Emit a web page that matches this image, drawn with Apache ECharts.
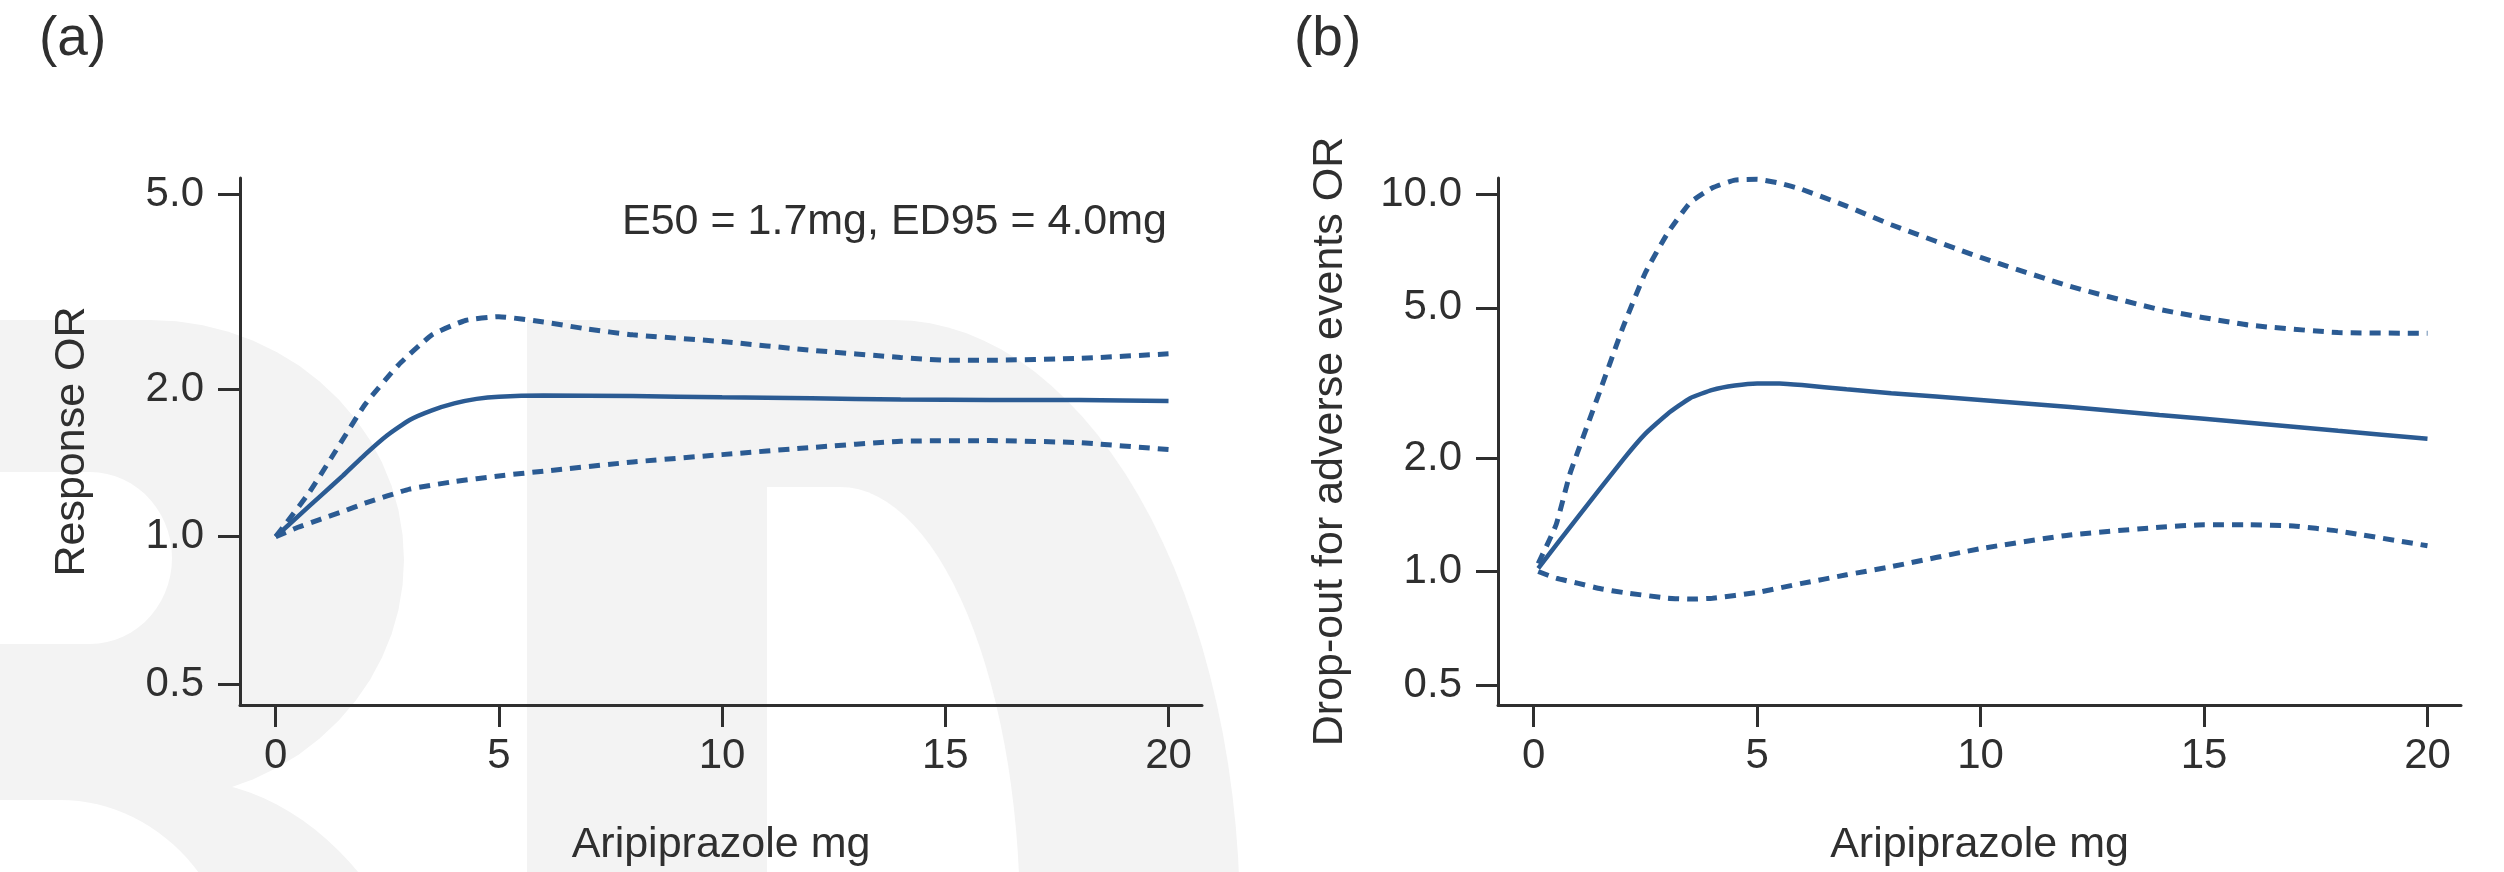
<!DOCTYPE html>
<html>
<head>
<meta charset="utf-8">
<script src="https://cdn.jsdelivr.net/npm/echarts@6/dist/echarts.min.js"></script>
<style>
  html, body { margin: 0; padding: 0; background: #fff; }
  #chart { width: 2504px; height: 872px; }
</style>
</head>
<body>
<div id="chart"></div>
<script>
//--------------------- Data ---------------------------//
// (a) response OR vs aripiprazole dose
const doseA = [0, 0.5, 1, 1.5, 2, 2.5, 3, 3.5, 4, 4.5, 5, 6, 8, 10, 12, 14, 16, 18, 20];
const responseOR = [1.00, 1.10, 1.21, 1.33, 1.47, 1.61, 1.73, 1.81, 1.87, 1.91, 1.93, 1.94, 1.935, 1.925, 1.915, 1.905, 1.90, 1.90, 1.89];
const doseAUpper = [0, 0.25, 0.75, 1.25, 2, 2.75, 3.5, 4.25, 5, 6, 7, 8, 10, 12, 14, 15, 16, 18, 20];
const responseUpper = [1.00, 1.07, 1.23, 1.45, 1.86, 2.24, 2.58, 2.76, 2.81, 2.74, 2.65, 2.58, 2.50, 2.40, 2.32, 2.29, 2.29, 2.31, 2.36];
const doseALower = [0, 0.5, 1, 1.5, 2, 3, 4, 5, 6, 8, 10, 12, 14, 16, 18, 20];
const responseLower = [1.00, 1.045, 1.085, 1.125, 1.17, 1.25, 1.295, 1.33, 1.36, 1.42, 1.47, 1.52, 1.565, 1.57, 1.555, 1.505];

// (b) drop-out for adverse events OR vs dose
const doseB = [0.1, 1, 2, 2.5, 3, 3.5, 4, 4.5, 5, 5.5, 6, 7, 8, 10, 12, 14, 16, 18, 20];
const dropoutOR = [1.02, 1.40, 1.98, 2.32, 2.62, 2.88, 3.03, 3.11, 3.15, 3.15, 3.12, 3.04, 2.97, 2.85, 2.73, 2.60, 2.48, 2.36, 2.25];
const doseBUpper = [0.1, 0.5, 0.8, 1, 1.5, 2, 2.5, 3, 3.5, 4, 4.5, 5, 5.5, 6, 7, 8, 10, 12, 14, 16, 18, 20];
const dropoutUpper = [1.05, 1.33, 1.80, 2.10, 3.05, 4.45, 6.2, 7.9, 9.5, 10.4, 10.9, 10.95, 10.7, 10.3, 9.3, 8.3, 6.8, 5.7, 4.95, 4.5, 4.3, 4.28];
const doseBLower = [0.1, 0.5, 1, 1.5, 2, 3, 3.5, 4, 5, 6, 7, 8, 10, 12, 14, 15, 16, 17, 18, 20];
const dropoutLower = [1.00, 0.96, 0.93, 0.90, 0.88, 0.85, 0.845, 0.85, 0.88, 0.93, 0.98, 1.03, 1.15, 1.25, 1.31, 1.33, 1.33, 1.32, 1.28, 1.17];

// tick labels
const xTicks = [0, 5, 10, 15, 20];
const yTicksA = [0.5, 1.0, 2.0, 5.0];
const yTicksB = [0.5, 1.0, 2.0, 5.0, 10.0];

//--------------------- Style ---------------------------//
const ink = '#2f2f2f';
const blue = '#2b5b93';
const font = 'Liberation Sans';

// log10 transform so the value axis acts as a log axis with 0.5/1/2/5 ticks
const toPairs = (xs, ys) => xs.map((x, i) => [x, Math.log10(ys[i])]);

function xAxisOpt(gridIndex) {
  return {
    type: 'value', gridIndex: gridIndex, min: -0.8, max: 20.75,
    axisLine: { show: true, onZero: false, lineStyle: { color: ink, width: 3 } },
    axisTick: { show: true, length: 22, customValues: xTicks, lineStyle: { color: ink, width: 3 } },
    axisLabel: { customValues: xTicks, margin: 30, fontSize: 42, color: ink, fontFamily: font },
    splitLine: { show: false },
    name: 'Aripiprazole mg', nameLocation: 'middle', nameGap: 119,
    nameTextStyle: { fontSize: 43, color: ink, fontFamily: font },
  };
}

function yAxisOpt(gridIndex, ticks, lo, hi, name, gap) {
  const vals = ticks.map(Math.log10);
  return {
    type: 'value', gridIndex: gridIndex, min: Math.log10(lo), max: Math.log10(hi),
    axisLine: { show: true, onZero: false, lineStyle: { color: ink, width: 3 } },
    axisTick: { show: true, length: 22, customValues: vals, lineStyle: { color: ink, width: 3 } },
    axisLabel: {
      customValues: vals, margin: 36, fontSize: 42, color: ink, fontFamily: font,
      formatter: (v) => Math.pow(10, v).toFixed(1),
    },
    splitLine: { show: false },
    name: name, nameLocation: 'middle', nameGap: gap,
    nameTextStyle: { fontSize: 43, color: ink, fontFamily: font },
  };
}

function lineSeries(idx, data, dashed) {
  return {
    type: 'line', xAxisIndex: idx, yAxisIndex: idx, data: data,
    smooth: 0.15, showSymbol: false, silent: true,
    lineStyle: { color: blue, width: dashed ? 5 : 4.5, type: dashed ? [11, 8] : 'solid' },
  };
}

// faint background lettering, built from ellipse arcs
function ellPts(cx, cy, rx, ry, a0, a1) {
  const pts = [];
  for (let i = 0; i <= 30; i++) {
    const a = (a0 + (a1 - a0) * i / 30) * Math.PI / 180;
    pts.push([cx + rx * Math.cos(a), cy + ry * Math.sin(a)]);
  }
  return pts;
}
function blob(points, fill) {
  return { type: 'polygon', z: -10, silent: true, shape: { points: points }, style: { fill: fill } };
}
const wm = '#f3f3f3';
const watermark = [
  blob([[-20, 320], [150, 320], ...ellPts(150, 560, 254, 240, -90, 90), [-20, 800]], wm),
  blob([[-20, 780], [180, 780], ...ellPts(180, 1150, 270, 370, -90, 0), [-20, 1150]], wm),
  blob([[-20, 472], [90, 472], ...ellPts(90, 558, 82, 86, -90, 90), [-20, 644]], '#fff'),
  blob([[-20, 800], [60, 800], ...ellPts(60, 1000, 180, 200, -90, 0), [-20, 1000]], '#fff'),
  blob([[527, 320], [894, 320], ...ellPts(894, 920, 346, 600, -90, 0), [527, 920]], wm),
  blob([[767, 487], [840, 487], ...ellPts(840, 920, 180, 433, -90, 0), [767, 920]], '#fff'),
];

//--------------------- Chart ---------------------------//
const chart = echarts.init(document.getElementById('chart'));
chart.setOption({
  animation: false,
  backgroundColor: '#fff',
  grid: [
    { left: 240, top: 178, width: 962, height: 528 },
    { left: 1498, top: 178, width: 963, height: 528 },
  ],
  xAxis: [xAxisOpt(0), xAxisOpt(1)],
  yAxis: [
    yAxisOpt(0, yTicksA, 0.4535, 5.39, 'Response OR', 146),
    yAxisOpt(1, yTicksB, 0.4428, 11.04, 'Drop-out for adverse events OR', 146),
  ],
  graphic: [
    ...watermark,
    { type: 'text', left: 39, top: 12, z: 5, style: { text: '(a)', fontSize: 55, fill: ink, fontFamily: font } },
    { type: 'text', left: 1294, top: 12, z: 5, style: { text: '(b)', fontSize: 55, fill: ink, fontFamily: font } },
    {
      type: 'text', x: 1167, y: 222, z: 5,
      style: { text: 'E50 = 1.7mg, ED95 = 4.0mg', fontSize: 43, fill: ink, fontFamily: font, align: 'right', verticalAlign: 'middle' },
    },
  ],
  series: [
    lineSeries(0, toPairs(doseA, responseOR), false),
    lineSeries(0, toPairs(doseAUpper, responseUpper), true),
    lineSeries(0, toPairs(doseALower, responseLower), true),
    lineSeries(1, toPairs(doseB, dropoutOR), false),
    lineSeries(1, toPairs(doseBUpper, dropoutUpper), true),
    lineSeries(1, toPairs(doseBLower, dropoutLower), true),
  ],
});
</script>
</body>
</html>
